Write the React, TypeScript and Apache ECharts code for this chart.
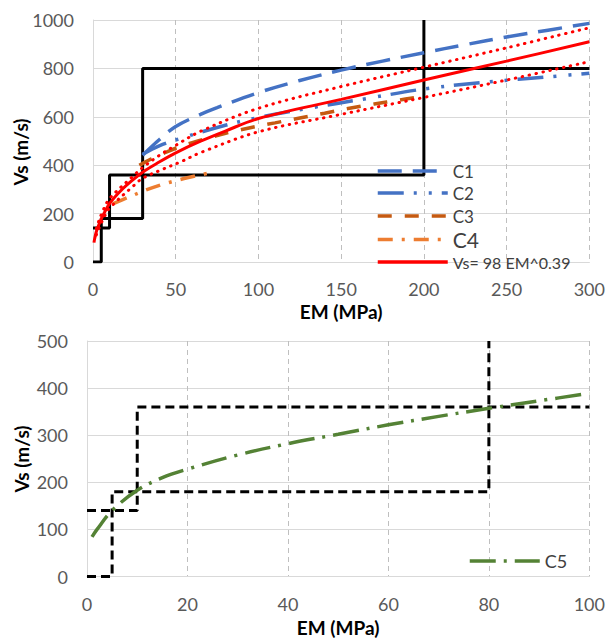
import React, { useEffect, useRef } from "react";
import * as echarts from "echarts";

const FONT = "Lato, 'Open Sans', sans-serif";

// ---- top chart data ----
const topXTicks = [0, 300, 50];
const topYTicks = [0, 1000, 200];

const stepLowTopX = [0, 5, 5, 30, 30, 300];
const stepLowTopY = [0, 0, 180, 180, 800, 800];
const stepUpTopX = [0, 10, 10, 200, 200];
const stepUpTopY = [140, 140, 360, 360, 1000];

const c1X = [30, 40, 50, 65, 75, 100, 125, 150, 175, 200, 225, 250, 275, 300];
const c1Y = [441, 505, 560, 610, 638, 700, 750, 793, 830, 865, 898, 930, 958, 986];

const c2X = [30, 40, 53, 80, 100, 130, 165, 200, 235, 257, 280, 300];
const c2Y = [445, 480, 511, 565, 597, 635, 675, 715, 742, 755, 768, 780];

const c3X = [28, 35, 43, 50, 60, 75, 82, 95, 110, 125, 140, 155, 170, 185, 195];
const c3Y = [400, 425, 450, 470, 493, 522, 535, 555, 575, 595, 615, 635, 653, 669, 680];

const c4X = [12, 18, 24, 31, 44, 50, 57, 65, 71];
const c4Y = [240, 258, 275, 295, 325, 336, 348, 360, 369];

const fitX = [0.6, 1, 2, 4, 6, 10, 15, 20, 30, 40, 50, 65, 80, 100, 150, 200, 250, 300];
const fitY = [80, 96, 125, 162, 192, 241, 282, 316, 371, 413, 451, 499, 541, 593, 672, 752, 830, 910];

const upX = [2, 3, 6, 10, 25, 30, 40, 50, 65, 100, 150, 200, 250, 300];
const upY = [138, 160, 212, 262, 360, 390, 440, 482, 540, 635, 725, 805, 885, 968];

const loX = [2, 3, 6, 10, 25, 30, 41, 53, 65, 100, 150, 200, 250, 300];
const loY = [112, 130, 175, 222, 318, 346, 380, 414, 452, 538, 610, 680, 752, 828];

// ---- bottom chart data ----
const botXTicks = [0, 100, 20];
const botYTicks = [0, 500, 100];

const stepLowBotX = [0, 5, 5, 80, 80];
const stepLowBotY = [0, 0, 180, 180, 500];
const stepUpBotX = [0, 10, 10, 100];
const stepUpBotY = [140, 140, 360, 360];

const c5X = [1, 2, 5, 10, 15, 20, 30, 40, 50, 60, 70, 80, 90, 100];
const c5Y = [84, 100, 140, 183, 210, 228, 258, 282, 302, 322, 340, 357, 373, 389];

const pairs = (xs: number[], ys: number[]) => xs.map((x, i) => [x, ys[i]]);

const COL = {
  c1: "#4472C4",
  c2: "#4472C4",
  c3: "#C55A11",
  c4: "#ED7D31",
  fit: "#FF0000",
  c5: "#548235",
};
const DASH = {
  c1: [24, 11],
  c2: [26, 10, 3, 12, 3, 10],
  c3: [14, 13],
  c4: [15, 9, 3, 9],
  c5: [26, 8, 3, 8],
  dot: [0.5, 6.5],
  blk: [9, 5],
};

function xAxisOf(grid: number, t: number[], gap: number) {
  return {
    type: "value",
    gridIndex: grid,
    min: t[0],
    max: t[1],
    interval: t[2],
    axisLine: { show: true, lineStyle: { color: "#D9D9D9", width: 1 } },
    axisTick: { show: false },
    axisLabel: {
      color: "#595959",
      fontSize: 18,
      fontFamily: FONT,
      margin: 18,
      formatter: (v: number) => String(v),
    },
    splitLine: { show: true, lineStyle: { color: "#BFBFBF", width: 1, type: [5, 4] } },
    name: "EM (MPa)",
    nameLocation: "middle",
    nameGap: gap,
    nameTextStyle: {
      fontWeight: "bold",
      fontSize: 19,
      color: "#000",
      fontFamily: FONT,
      verticalAlign: "middle",
    },
  };
}

function yAxisOf(grid: number, t: number[]) {
  return {
    type: "value",
    gridIndex: grid,
    min: t[0],
    max: t[1],
    interval: t[2],
    axisLine: { show: true, lineStyle: { color: "#D9D9D9", width: 1 } },
    axisTick: { show: false },
    axisLabel: {
      color: "#595959",
      fontSize: 18,
      fontFamily: FONT,
      margin: 19,
      formatter: (v: number) => String(v),
    },
    splitLine: { show: true, lineStyle: { color: "#D9D9D9", width: 1 } },
  };
}

function curve(name: string, g: number, xs: number[], ys: number[], color: string, width: number, type: any, cap = "butt") {
  return {
    name,
    type: "line",
    xAxisIndex: g,
    yAxisIndex: g,
    data: pairs(xs, ys),
    symbol: "none",
    smooth: 0.35,
    z: 3,
    lineStyle: { color, width, type, cap },
  };
}

function steps(g: number, xs: number[], ys: number[], type: any) {
  return {
    type: "line",
    xAxisIndex: g,
    yAxisIndex: g,
    data: pairs(xs, ys),
    symbol: "none",
    z: 2,
    silent: true,
    lineStyle: { color: "#000", width: 3, type },
  };
}

function legendItem(name: string, left: number, cy: number, size: number, color: string, dash: any) {
  return {
    data: [name],
    left,
    top: cy - 10,
    orient: "vertical",
    padding: 0,
    itemWidth: 70,
    itemHeight: 20,
    selectedMode: false,
    itemStyle: { color: "rgba(0,0,0,0)", borderWidth: 0 },
    lineStyle: { color, width: 3.5, type: dash },
    textStyle: { fontFamily: FONT, fontSize: size, lineHeight: 20, color: "#404040" },
  };
}

export default function App() {
  const ref = useRef<HTMLDivElement>(null);
  useEffect(() => {
    const chart = echarts.init(ref.current!, null, { renderer: "svg" });
    chart.setOption({
      animation: false,
      backgroundColor: "#FFFFFF",
      textStyle: { fontFamily: FONT },
      grid: [
        { left: 93, right: 17, top: 20, bottom: 376 },
        { left: 87, right: 14, top: 341, bottom: 61 },
      ],
      xAxis: [xAxisOf(0, topXTicks, 49), xAxisOf(1, botXTicks, 51)],
      yAxis: [yAxisOf(0, topYTicks), yAxisOf(1, botYTicks)],
      legend: [
        legendItem("C1", 376, 171, 17, COL.c1, DASH.c1),
        legendItem("C2", 376, 193, 17, COL.c2, DASH.c2),
        legendItem("C3", 376, 216, 17, COL.c3, DASH.c3),
        legendItem("C4", 376, 239, 21, COL.c4, DASH.c4),
        legendItem("Vs= 98 EM^0.39", 376, 262, 16, COL.fit, "solid"),
        legendItem("C5", 468, 561, 18, COL.c5, DASH.c5),
      ],
      graphic: [
        {
          type: "text",
          x: 20,
          y: 152,
          rotation: Math.PI / 2,
          style: { text: "Vs (m/s)", font: `bold 19px ${FONT}`, fill: "#000", align: "center", verticalAlign: "middle" },
        },
        {
          type: "text",
          x: 21,
          y: 459,
          rotation: Math.PI / 2,
          style: { text: "Vs (m/s)", font: `bold 19px ${FONT}`, fill: "#000", align: "center", verticalAlign: "middle" },
        },
      ],
      series: [
        steps(0, stepLowTopX, stepLowTopY, "solid"),
        steps(0, stepUpTopX, stepUpTopY, "solid"),
        curve("C1", 0, c1X, c1Y, COL.c1, 3.5, DASH.c1),
        curve("C2", 0, c2X, c2Y, COL.c2, 3.5, DASH.c2),
        curve("C3", 0, c3X, c3Y, COL.c3, 3.5, DASH.c3),
        curve("C4", 0, c4X, c4Y, COL.c4, 3.5, DASH.c4),
        curve("upper", 0, upX, upY, COL.fit, 3, DASH.dot, "round"),
        curve("lower", 0, loX, loY, COL.fit, 3, DASH.dot, "round"),
        curve("Vs= 98 EM^0.39", 0, fitX, fitY, COL.fit, 3, "solid"),
        steps(1, stepLowBotX, stepLowBotY, DASH.blk),
        steps(1, stepUpBotX, stepUpBotY, DASH.blk),
        curve("C5", 1, c5X, c5Y, COL.c5, 3.5, DASH.c5),
      ],
    });
    return () => chart.dispose();
  }, []);
  return <div ref={ref} style={{ position: "fixed", left: 0, top: 0, width: 608, height: 638 }} />;
}
